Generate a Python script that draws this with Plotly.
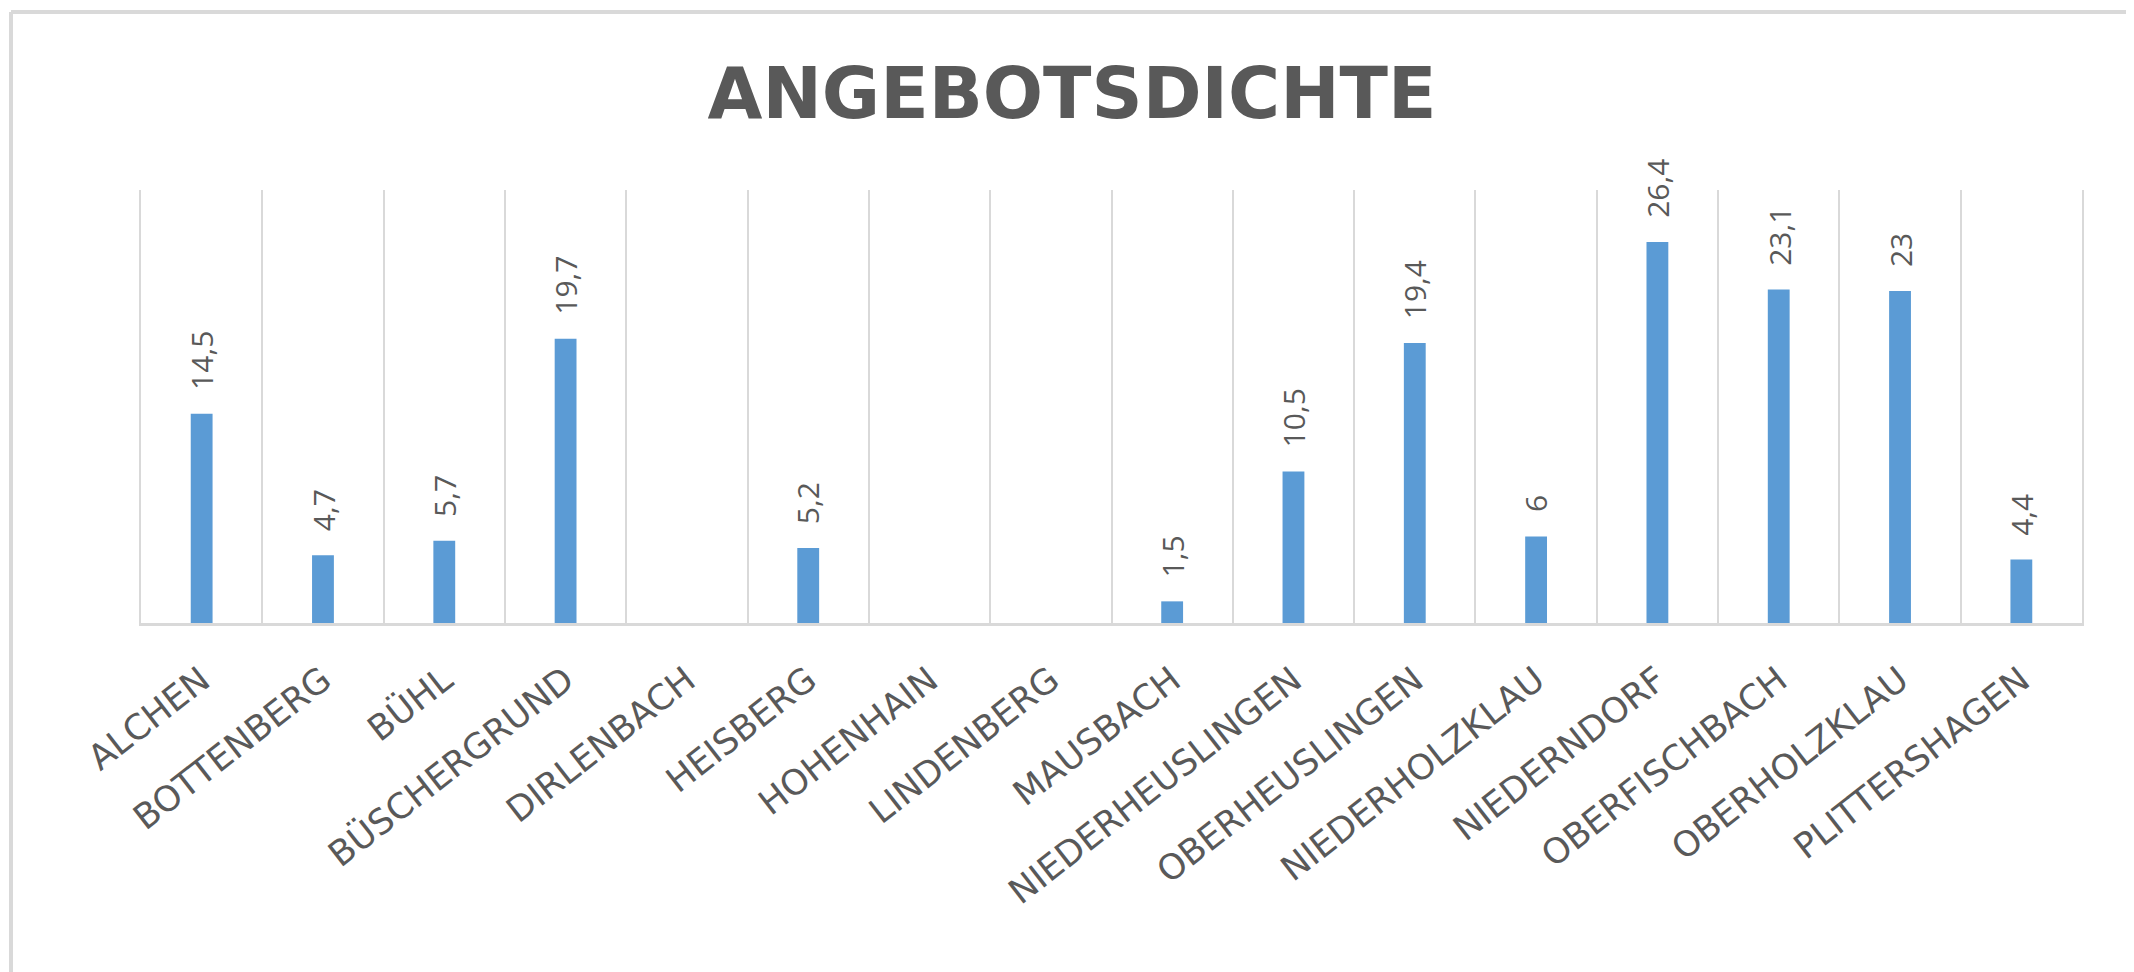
import plotly.graph_objects as go

categories = ["ALCHEN", "BOTTENBERG", "BÜHL", "BÜSCHERGRUND", "DIRLENBACH", "HEISBERG",
              "HOHENHAIN", "LINDENBERG", "MAUSBACH", "NIEDERHEUSLINGEN", "OBERHEUSLINGEN",
              "NIEDERHOLZKLAU", "NIEDERNDORF", "OBERFISCHBACH", "OBERHOLZKLAU", "PLITTERSHAGEN"]
values = [14.5, 4.7, 5.7, 19.7, None, 5.2, None, None, 1.5, 10.5, 19.4, 6, 26.4, 23.1, 23, 4.4]
title_text = "ANGEBOTSDICHTE"

W, H = 2134, 972
OFF = 8  # page body margin
L, R, T, B = 141 - OFF, 2082 - OFF, 190 - OFF, 623 - OFF  # plot area in figure px


def px_x(px):
    return (px - OFF - L) / (R - L)


def px_y(py):
    return (B - (py - OFF)) / (B - T)


def fmt(v):
    return f"{v:g}".replace(".", ",")


GRID = "#d9d9d9"
TXT = "#595959"

fig = go.Figure()
fig.add_trace(go.Bar(
    x=categories, y=values,
    marker=dict(color="#5B9BD5", line=dict(width=0)),
    hoverinfo="skip",
))

annotations = []
for c, v in zip(categories, values):
    if v is None:
        continue
    annotations.append(dict(
        x=c, y=v, xref="x", yref="y", text=fmt(v), showarrow=False,
        textangle=-90, xanchor="center", yanchor="bottom", yshift=22,
        font=dict(family="Open Sans", size=30, color=TXT),
    ))

shapes = [
    dict(type="line", xref="paper", yref="paper",
         x0=px_x(11), x1=px_x(W + 20), y0=px_y(12), y1=px_y(12),
         line=dict(color=GRID, width=4)),
    dict(type="line", xref="paper", yref="paper",
         x0=px_x(11), x1=px_x(11), y0=px_y(12), y1=px_y(H + 20),
         line=dict(color=GRID, width=4)),
]

fig.update_layout(
    width=W, height=H,
    margin=dict(l=L, r=W - R, t=T, b=H - B, pad=0),
    paper_bgcolor="white", plot_bgcolor="white",
    showlegend=False,
    bargap=0.82,
    title=dict(text=title_text, x=(1072 - OFF) / W, xanchor="center",
               y=1 - (93 - OFF) / H, yanchor="middle",
               font=dict(family="DejaVu Sans", size=71, color=TXT, weight="bold")),
    xaxis=dict(type="category", range=[-0.5, len(categories) - 0.5],
               tickson="boundaries", showgrid=True, gridcolor=GRID, gridwidth=1.5,
               ticks="", showline=True, linecolor=GRID, linewidth=2.5,
               tickangle=-38, ticklabelstandoff=20,
               tickfont=dict(family="DejaVu Sans", size=35, color=TXT),
               zeroline=False, fixedrange=True),
    yaxis=dict(range=[0, 30], showgrid=False, showticklabels=False, zeroline=False,
               showline=True, mirror=True, linecolor=GRID, linewidth=1.5, ticks=""),
    annotations=annotations,
    shapes=shapes,
)

fig.write_html("out.html")
